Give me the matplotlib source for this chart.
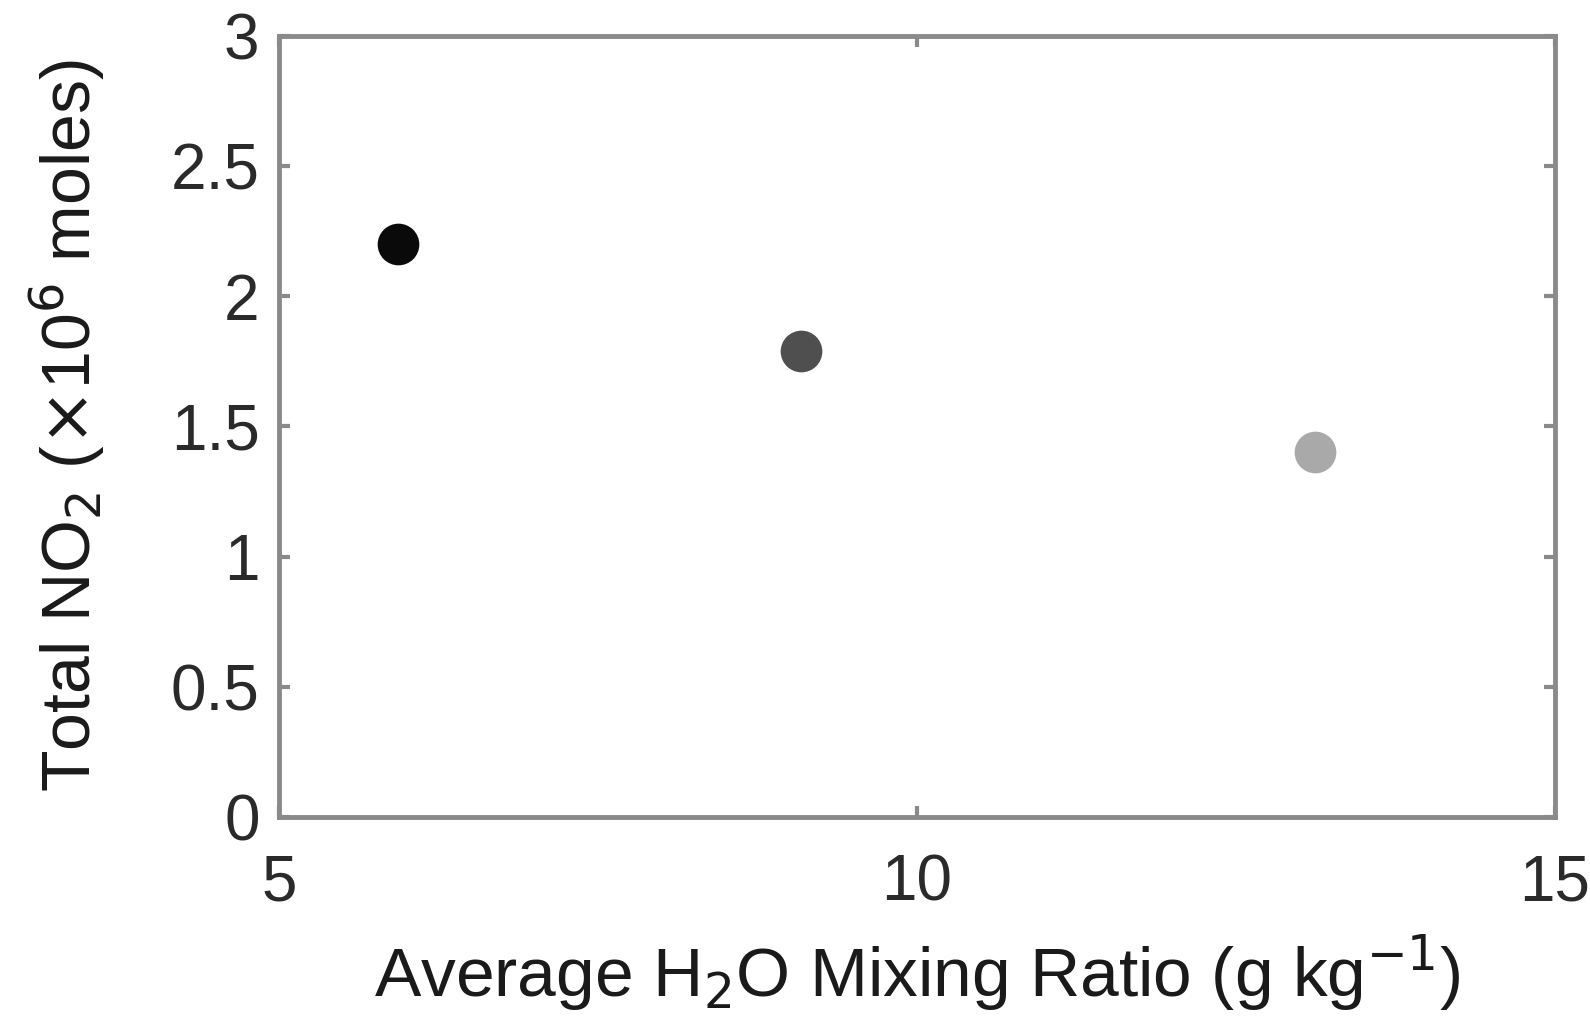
import matplotlib.pyplot as plt

plt.rcParams['font.family'] = ['Liberation Sans', 'DejaVu Sans']

# Data
h2o = [5.93, 9.09, 13.12]
no2 = [2.20, 1.79, 1.40]
colors = ["#0a0a0a", "#4f4f4f", "#a9a9a9"]

x_ticks = [5, 10, 15]
y_ticks = [0, 0.5, 1, 1.5, 2, 2.5, 3]
y_ticklabels = ["0", "0.5", "1", "1.5", "2", "2.5", "3"]

fig = plt.figure(figsize=(15.9, 10.33), dpi=100)
ax = fig.add_axes([279/1590, 1 - 817/1033, (1555-279)/1590, (817-35.5)/1033])

for x, y, c in zip(h2o, no2, colors):
    ax.plot(x, y, "o", color=c, markersize=30, markeredgewidth=0)

ax.set_xlim(5, 15)
ax.set_ylim(0, 3)
ax.set_xticks(x_ticks)
ax.set_yticks(y_ticks)
ax.set_yticklabels(y_ticklabels)

for s in ax.spines.values():
    s.set_color("#8a8a8a")
    s.set_linewidth(3.5)

ax.tick_params(direction="in", length=8, width=3, color="#8a8a8a",
               top=True, right=True, labelsize=46, labelcolor="#2a2a2a")
ax.tick_params(axis="x", pad=26)
ax.tick_params(axis="y", pad=14)

ax.set_xlabel("Average H$_2$O Mixing Ratio (g kg$^{-1}$)", fontsize=50,
              color="#1a1a1a", labelpad=14)
ax.set_ylabel("Total NO$_2$ ($\\times$10$^6$ moles)", fontsize=49,
              color="#1a1a1a", labelpad=46)

fig.savefig("out.png", dpi=100)
